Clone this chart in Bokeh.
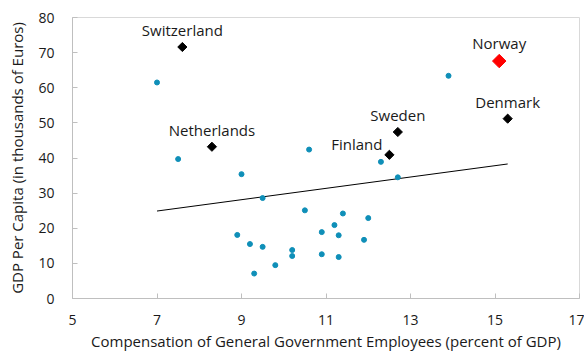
import numpy as np
from bokeh.plotting import figure
from bokeh.models import ColumnDataSource, Range1d, FixedTicker
from bokeh.core.properties import value
from bokeh.embed import file_html
from bokeh.resources import INLINE

# ---- data ----
other_x = [7.0, 7.5, 9.0, 9.5, 10.6, 13.9, 12.3, 12.7, 8.9, 9.2, 9.5, 9.3,
           9.8, 10.2, 10.2, 10.5, 11.4, 12.0, 11.2, 10.9, 11.3, 11.9, 10.9, 11.3]
other_y = [61.5, 39.7, 35.4, 28.6, 42.4, 63.4, 38.9, 34.5, 18.1, 15.5, 14.7, 7.1,
           9.5, 13.8, 12.1, 25.1, 24.2, 22.9, 20.9, 18.9, 18.0, 16.7, 12.6, 11.8]

named_countries = ["Switzerland", "Netherlands", "Sweden", "Denmark"]
named_x = [7.6, 8.3, 12.7, 15.3]
named_y = [71.6, 43.2, 47.4, 51.2]

finland_name = ["Finland"]
finland_x = [12.5]
finland_y = [40.9]

norway_name = ["Norway"]
norway_x = [15.1]
norway_y = [67.6]

trend_x = [7.0, 15.3]
trend_y = [24.9, 38.3]

x_ticks = [5, 7, 9, 11, 13, 15, 17]
y_ticks = [0, 10, 20, 30, 40, 50, 60, 70, 80]

FONT = "Open Sans"
TXT = "#1a1a1a"
AX = "#bfbfbf"

p = figure(width=584, height=356, output_backend="svg", toolbar_location=None,
           x_range=Range1d(5, 17), y_range=Range1d(0, 80),
           min_border_left=72, min_border_right=5, min_border_top=17, min_border_bottom=58)
p.background_fill_color = "white"
p.border_fill_color = "white"
p.outline_line_color = "#d9d9d9"
p.grid.visible = False

for ax in (p.xaxis[0], p.yaxis[0]):
    ax.axis_line_color = AX
    ax.major_tick_line_color = AX
    ax.major_tick_in = 5
    ax.major_tick_out = 0
    ax.minor_tick_line_color = None
    ax.major_label_text_font = FONT
    ax.major_label_text_font_size = "14px"
    ax.major_label_text_color = TXT
    ax.axis_label_text_font = FONT
    ax.axis_label_text_font_size = "15px"
    ax.axis_label_text_font_style = "normal"
    ax.axis_label_text_color = TXT

p.xaxis.ticker = FixedTicker(ticks=x_ticks)
p.yaxis.ticker = FixedTicker(ticks=y_ticks)
p.xaxis.axis_label = "Compensation of General Government Employees (percent of GDP)"
p.yaxis.axis_label = "GDP Per Capita (in thousands of Euros)"
p.xaxis.major_label_standoff = 16
p.xaxis.axis_label_standoff = 3
p.yaxis.major_label_standoff = 18
p.yaxis.axis_label_standoff = 8

p.line(trend_x, trend_y, line_color="black", line_width=1)

p.scatter(other_x, other_y, marker="circle", size=5, fill_color="#0f8fb8", line_color="#0f8fb8")

p.scatter(named_x + finland_x, named_y + finland_y, marker="square", angle=np.pi / 4,
          size=6.5, fill_color="black", line_color="black")
p.scatter(norway_x, norway_y, marker="square", angle=np.pi / 4, size=9.5,
          fill_color="#ff0000", line_color="#ff0000")

src_named = ColumnDataSource(dict(x=named_x, y=named_y, t=named_countries))
p.text(x="x", y="y", text="t", source=src_named, text_align="center",
       text_baseline="alphabetic", y_offset=-17, text_font=value(FONT),
       text_font_size="15px", text_color=TXT)
p.text(x=finland_x, y=finland_y, text=finland_name, text_align="right",
       text_baseline="alphabetic", x_offset=-7, y_offset=-11, text_font=value(FONT),
       text_font_size="15px", text_color=TXT)
p.text(x=norway_x, y=norway_y, text=norway_name, text_align="center",
       text_baseline="alphabetic", y_offset=-18, text_font=value(FONT),
       text_font_size="15px", text_color=TXT)

open("out.html", "w").write(file_html(p, INLINE))
